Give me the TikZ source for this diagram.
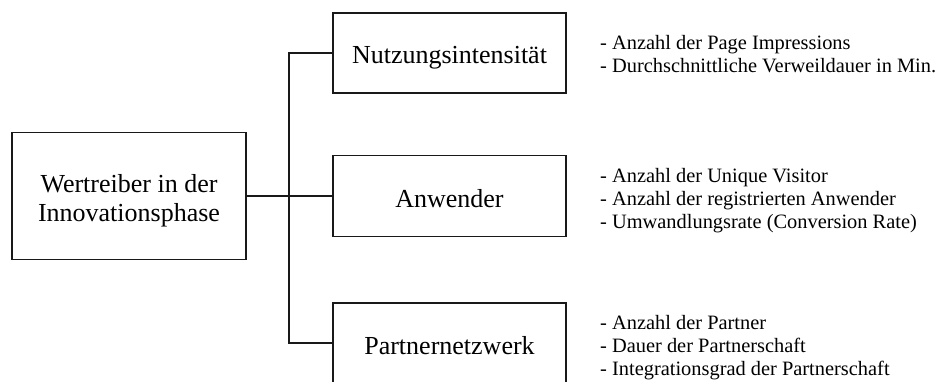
\documentclass[tikz,border=0pt]{standalone}
\usepackage{fontspec}
\setmainfont{Liberation Serif}
\begin{document}
\begin{tikzpicture}[x=1pt,y=1pt,
  box/.style={draw=black!90, line width=1.8pt, minimum width=233pt, minimum height=80pt, inner sep=0pt},
  link/.style={draw=black!90, line width=1.8pt},
  boxtext/.style={font=\fontsize{26}{29}\selectfont, anchor=base, inner sep=0pt},
  sidetext/.style={font=\fontsize{20.4}{23.3}\selectfont, align=left, anchor=west, inner sep=0pt}]
\useasboundingbox (0,0) rectangle (942,381);
% boxes
\node[box, minimum width=234pt, minimum height=127pt] (root) at (129,185) {};
\node[box] (nut) at (449.5,328) {};
\node[box, minimum height=81pt] (anw) at (449.5,185) {};
\node[box] (par) at (449.5,38) {};
% box texts
\node[font=\fontsize{26}{29}\selectfont, align=center, inner sep=0pt] (rootT) at (129,180) {Wertreiber in der\\Innovationsphase};
\node[boxtext] (nutT) at ([yshift=-11pt]nut.center) {Nutzungsintensität};
\node[boxtext] (anwT) at ([yshift=-11pt]anw.center) {Anwender};
\node[boxtext] (parT) at ([yshift=-11pt]par.center) {Partnernetzwerk};
% connectors
\coordinate (j) at (289,185);
\draw[link] (root.east) -- (anw.west);
\draw[link] (nut.west) -| (j) |- (par.west);
% side texts
\node[sidetext] (s1) at (600,326.8) {- Anzahl der Page Impressions\\- Durchschnittliche Verweildauer in Min.};
\node[sidetext] (s2) at (600,180.5) {- Anzahl der Unique Visitor\\- Anzahl der registrierten Anwender\\- Umwandlungsrate (Conversion Rate)};
\node[sidetext] (s3) at (600,33.5) {- Anzahl der Partner\\- Dauer der Partnerschaft\\- Integrationsgrad der Partnerschaft};
\end{tikzpicture}
\end{document}
